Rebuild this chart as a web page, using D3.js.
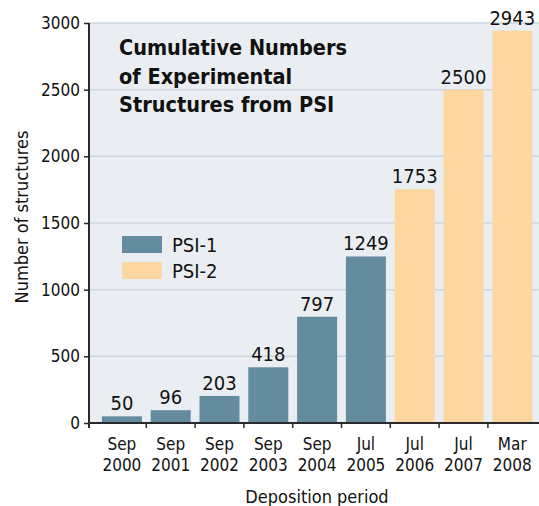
<!DOCTYPE html>
<html>
<head>
<meta charset="utf-8">
<script src="https://cdn.jsdelivr.net/npm/d3@7"></script>
<style>
  body { margin: 0; background: #fff; }
  text { font-family: "DejaVu Sans Condensed", "DejaVu Sans", sans-serif; fill: #111; }
</style>
</head>
<body>
<script>
var periods = ["Sep|2000", "Sep|2001", "Sep|2002", "Sep|2003", "Sep|2004", "Jul|2005", "Jul|2006", "Jul|2007", "Mar|2008"];
var counts = [50, 96, 203, 418, 797, 1249, 1753, 2500, 2943];
var phase = ["PSI-1", "PSI-1", "PSI-1", "PSI-1", "PSI-1", "PSI-1", "PSI-2", "PSI-2", "PSI-2"];
var phases = ["PSI-1", "PSI-2"];
var yTicks = [0, 500, 1000, 1500, 2000, 2500, 3000];
var titleLines = ["Cumulative Numbers", "of Experimental", "Structures from PSI"];

var w = 539, h = 506;
var plotL = 89, plotT = 23, plotB = 423, plotR = 539;

var svg = d3.select("body").append("svg")
  .attr("width", w)
  .attr("height", h);

var x = d3.scaleBand()
  .domain(periods)
  .range([97.5, 536.7])
  .paddingInner(0.18)
  .paddingOuter(0.09);

var y = d3.scaleLinear()
  .domain([0, 3000])
  .range([plotB, plotT]);

var color = d3.scaleOrdinal()
  .domain(phases)
  .range(["#658c9e", "#fdd7a2"]);

// plot background
svg.append("rect")
  .attr("x", plotL)
  .attr("y", plotT)
  .attr("width", plotR - plotL)
  .attr("height", plotB - plotT)
  .attr("fill", "#eaeef2");

// gridlines
svg.append("g").selectAll("line")
  .data(yTicks.slice(1))
  .enter().append("line")
  .attr("x1", plotL)
  .attr("x2", plotR)
  .attr("y1", function (d) { return y(d); })
  .attr("y2", function (d) { return y(d); })
  .attr("stroke", "#ccd6de")
  .attr("stroke-width", 1.5);

// bars
svg.append("g").selectAll("rect")
  .data(periods)
  .enter().append("rect")
  .attr("x", function (d) { return x(d); })
  .attr("width", x.bandwidth())
  .attr("y", function (d, i) { return y(counts[i]); })
  .attr("height", function (d, i) { return y(0) - y(counts[i]); })
  .attr("fill", function (d, i) { return color(phase[i]); });

// value labels
svg.append("g").selectAll("text")
  .data(periods)
  .enter().append("text")
  .attr("x", function (d) { return x(d) + x.bandwidth() / 2; })
  .attr("y", function (d, i) { return y(counts[i]) - 6; })
  .attr("text-anchor", "middle")
  .style("font-size", "20px")
  .text(function (d, i) { return counts[i]; });

// y axis
var yAxis = svg.append("g")
  .attr("transform", "translate(" + plotL + ",0)")
  .call(d3.axisLeft(y).tickValues(yTicks).tickFormat(d3.format("d")).tickSize(5).tickPadding(4));
yAxis.select(".domain").attr("stroke", "#2a2a2a").attr("stroke-width", 2)
  .attr("d", "M0," + plotT + "V" + (plotB + 5));
yAxis.selectAll(".tick line").attr("stroke", "#2a2a2a").attr("stroke-width", 1.5);
yAxis.selectAll(".tick text")
  .style("font-size", "17px")
  .style("font-family", "'DejaVu Sans Condensed', sans-serif")
  .attr("fill", "#111");

// x axis baseline and tick marks between bands
svg.append("line")
  .attr("x1", plotL)
  .attr("x2", plotR)
  .attr("y1", plotB)
  .attr("y2", plotB)
  .attr("stroke", "#2a2a2a")
  .attr("stroke-width", 2);

svg.append("g").selectAll("line")
  .data(periods.slice(1))
  .enter().append("line")
  .attr("x1", function (d) { return x(d) - x.step() * x.paddingInner() / 2; })
  .attr("x2", function (d) { return x(d) - x.step() * x.paddingInner() / 2; })
  .attr("y1", plotB)
  .attr("y2", plotB + 5)
  .attr("stroke", "#2a2a2a")
  .attr("stroke-width", 1.5);

// x labels (two lines)
var xl = svg.append("g").selectAll("text")
  .data(periods)
  .enter().append("text")
  .attr("text-anchor", "middle")
  .style("font-size", "17px");
xl.append("tspan")
  .attr("x", function (d) { return x(d) + x.bandwidth() / 2; })
  .attr("y", 450)
  .text(function (d) { return d.split("|")[0]; });
xl.append("tspan")
  .attr("x", function (d) { return x(d) + x.bandwidth() / 2; })
  .attr("y", 471)
  .text(function (d) { return d.split("|")[1]; });

// axis titles
svg.append("text")
  .attr("x", 317)
  .attr("y", 503)
  .attr("text-anchor", "middle")
  .style("font-size", "18px")
  .text("Deposition period");

svg.append("text")
  .attr("transform", "translate(28,217) rotate(-90)")
  .attr("text-anchor", "middle")
  .style("font-size", "18px")
  .text("Number of structures");

// title block
svg.append("g").selectAll("text")
  .data(titleLines)
  .enter().append("text")
  .attr("x", 119)
  .attr("y", function (d, i) { return 55 + i * 28.5; })
  .style("font-size", "21.5px")
  .style("font-weight", "bold")
  .text(function (d) { return d; });

// legend
var lg = svg.append("g").selectAll("g")
  .data(phases)
  .enter().append("g")
  .attr("transform", function (d, i) { return "translate(122," + (236 + i * 26) + ")"; });
lg.append("rect")
  .attr("width", 40)
  .attr("height", 17)
  .attr("fill", function (d) { return color(d); });
lg.append("text")
  .attr("x", 50)
  .attr("y", 15.5)
  .style("font-size", "20px")
  .text(function (d) { return d; });
</script>
</body>
</html>
